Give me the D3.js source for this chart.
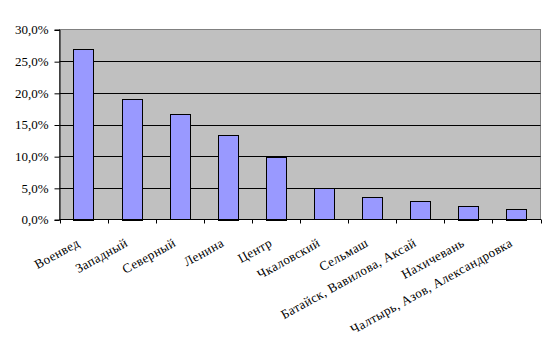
<!DOCTYPE html>
<html><head><meta charset="utf-8">
<script src="https://cdn.jsdelivr.net/npm/d3@7"></script>
<style>body{margin:0;background:#fff}svg{display:block}
.lbl{font-family:"Liberation Serif","Times New Roman",serif;fill:#000}</style>
</head><body>
<script>
const categories = ["Военвед","Западный","Северный","Ленина","Центр","Чкаловский","Сельмаш","Батайск, Вавилова, Аксай","Нахичевань","Чалтырь, Азов, Александровка"];
const values = [27.0, 19.1, 16.6, 13.4, 9.9, 4.9, 3.5, 2.9, 2.2, 1.7];
const yTicks = [0, 5, 10, 15, 20, 25, 30];

const W = 558, H = 356;
const L = 59.5, R = 540.5, T = 29.5, B = 219.5;
const svg = d3.select("body").append("svg").attr("width", W).attr("height", H);

const x = d3.scaleBand().domain(categories).range([L, R]).paddingInner(0.58).paddingOuter(0.29);
const xb = d3.scaleBand().domain(categories).range([L, R]);
const y = d3.scaleLinear().domain([0, 30]).range([B, T]);

svg.append("rect").attr("x", L).attr("y", T).attr("width", R - L).attr("height", B - T)
  .attr("fill", "#C0C0C0").attr("stroke", "#808080").attr("stroke-width", 1);

svg.append("g").selectAll("line").data(yTicks.filter(d => d > 0 && d < 30)).join("line")
  .attr("x1", L).attr("x2", R).attr("y1", d => Math.round(y(d)) + 0.5).attr("y2", d => Math.round(y(d)) + 0.5)
  .attr("stroke", "#000").attr("stroke-width", 1);

svg.append("g").selectAll("rect").data(values).join("rect")
  .attr("x", (d, i) => Math.round(x(categories[i])) + 0.5)
  .attr("width", Math.round(x.bandwidth()))
  .attr("y", d => Math.round(y(d)) + 0.5)
  .attr("height", d => Math.round(B - y(d)))
  .attr("fill", "#9999FF").attr("stroke", "#000").attr("stroke-width", 1);

// y axis
const yAxis = d3.axisLeft(y).tickValues(yTicks).tickSize(5).tickPadding(6)
  .tickFormat(d => d3.format(".1f")(d).replace(".", ",") + "%");
const gy = svg.append("g").attr("transform", `translate(${L},0)`).call(yAxis)
  .attr("font-family", null).attr("font-size", null);
gy.select(".domain").attr("stroke", "#000");
gy.selectAll(".tick line").attr("stroke", "#000").attr("transform", "translate(0,0.5)");
gy.selectAll("text").attr("class", "lbl").style("font-size", "13px").attr("fill", "#000");

// x axis baseline and ticks
svg.append("line").attr("x1", L).attr("x2", R + 0.5).attr("y1", B).attr("y2", B).attr("stroke", "#000");
const tickPos = categories.map(c => xb(c)).concat([R]);
svg.append("g").selectAll("line").data(tickPos).join("line")
  .attr("x1", d => Math.round(d) + 0.5).attr("x2", d => Math.round(d) + 0.5)
  .attr("y1", B).attr("y2", B + 4).attr("stroke", "#000");

svg.append("g").selectAll("text").data(categories).join("text")
  .attr("class", "lbl")
  .attr("transform", c => `translate(${xb(c) + xb.bandwidth() / 2 - 3},${B + 26}) rotate(-29)`)
  .attr("text-anchor", "end")
  .style("font-size", "13px").style("letter-spacing", "0.4px")
  .text(c => c);
</script>
</body></html>
